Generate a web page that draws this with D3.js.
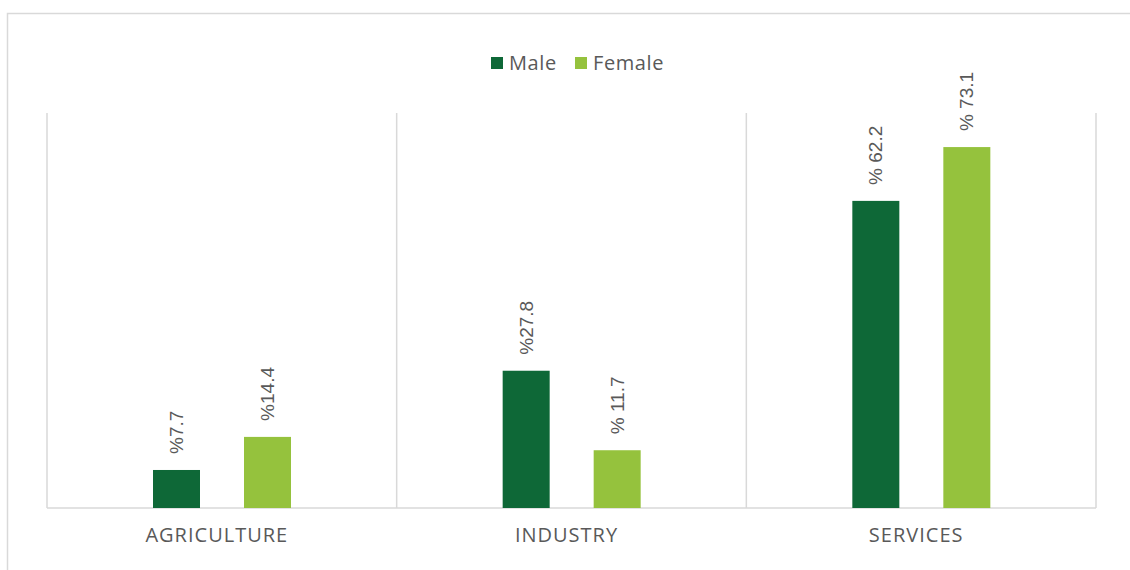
<html>
  <head>
    <script src="https://cdn.jsdelivr.net/npm/d3@7/dist/d3.min.js" charset="UTF-8"></script>
    <style>
      body { margin: 0; background: #fff; }
    </style>
  </head>
  <body>
    <svg width="1130" height="570"></svg>

    <script type="text/javascript">
      // Chart data
      var categories = ['AGRICULTURE', 'INDUSTRY', 'SERVICES'];
      var series = ['Male', 'Female'];
      var maleValues = [7.7, 27.8, 62.2];
      var femaleValues = [14.4, 11.7, 73.1];
      var maleLabels = ['%7.7', '%27.8', '% 62.2'];
      var femaleLabels = ['%14.4', '% 11.7', '% 73.1'];
      var colors = ['#0E6837', '#95C23D'];

      var svg = d3.select('svg');
      var margin = { left: 47, right: 34, top: 113, bottom: 62 };
      var width = 1130, height = 570;

      // Outer chart border
      svg.append('rect')
        .attr('x', 7.5).attr('y', 13.5)
        .attr('width', 1140).attr('height', 600)
        .attr('fill', 'none')
        .attr('stroke', '#D9D9D9')
        .attr('stroke-width', 1.5);

      var x = d3.scaleBand()
        .domain(categories)
        .range([margin.left, width - margin.right]);

      var y = d3.scaleLinear()
        .domain([0, 80])
        .range([height - margin.bottom, margin.top]);

      // Category separators
      var seps = categories.map(function(c) { return x(c); }).concat([x.range()[1]]);
      svg.selectAll('line.sep').data(seps).enter()
        .append('line')
        .attr('class', 'sep')
        .attr('x1', function(d) { return d; })
        .attr('x2', function(d) { return d; })
        .attr('y1', y(80))
        .attr('y2', y(0))
        .attr('stroke', '#D9D9D9')
        .attr('stroke-width', 1.5);

      // Baseline
      svg.append('line')
        .attr('x1', x.range()[0]).attr('x2', x.range()[1])
        .attr('y1', y(0)).attr('y2', y(0))
        .attr('stroke', '#D9D9D9')
        .attr('stroke-width', 1.5);

      var rows = [];
      categories.forEach(function(c, i) {
        rows.push({ cat: c, s: 'Male', v: maleValues[i], label: maleLabels[i], color: colors[0] });
        rows.push({ cat: c, s: 'Female', v: femaleValues[i], label: femaleLabels[i], color: colors[1] });
      });

      var barW = 47;
      function barX(d) {
        return x(d.cat) + (d.s === 'Male' ? 106 : 197);
      }

      svg.selectAll('rect.bar').data(rows).enter()
        .append('rect')
        .attr('class', 'bar')
        .attr('x', barX)
        .attr('width', barW)
        .attr('y', function(d) { return y(d.v); })
        .attr('height', function(d) { return y(0) - y(d.v); })
        .attr('fill', function(d) { return d.color; });

      // Rotated value labels
      svg.selectAll('text.val').data(rows).enter()
        .append('text')
        .attr('class', 'val')
        .attr('transform', function(d) {
          return 'translate(' + (barX(d) + barW / 2) + ',' + (y(d.v) - 16) + ') rotate(-90)';
        })
        .attr('dy', '0.35em')
        .attr('text-anchor', 'start')
        .attr('font-family', 'Liberation Sans, Arial, sans-serif')
        .attr('font-size', 19)
        .attr('fill', '#595959')
        .text(function(d) { return d.label; });

      // Category labels
      svg.selectAll('text.cat').data(categories).enter()
        .append('text')
        .attr('class', 'cat')
        .attr('x', function(d) { return x(d) + x.bandwidth() / 2 - 5; })
        .attr('y', 542)
        .attr('text-anchor', 'middle')
        .attr('font-family', 'Open Sans, sans-serif')
        .attr('font-size', 20)
        .attr('letter-spacing', 1)
        .attr('fill', '#595959')
        .text(function(d) { return d; });

      // Legend
      var legend = svg.append('g');
      var legendItems = [
        { name: 'Male', x: 491, color: colors[0] },
        { name: 'Female', x: 575, color: colors[1] }
      ];
      var li = legend.selectAll('g').data(legendItems).enter()
        .append('g')
        .attr('transform', function(d) { return 'translate(' + d.x + ',57)'; });
      li.append('rect')
        .attr('width', 12).attr('height', 12)
        .attr('fill', function(d) { return d.color; });
      li.append('text')
        .attr('x', 18).attr('y', 13)
        .attr('font-family', 'Open Sans, sans-serif')
        .attr('font-size', 20)
        .attr('letter-spacing', 0.6)
        .attr('fill', '#595959')
        .text(function(d) { return d.name; });
    </script>
  </body>
</html>
